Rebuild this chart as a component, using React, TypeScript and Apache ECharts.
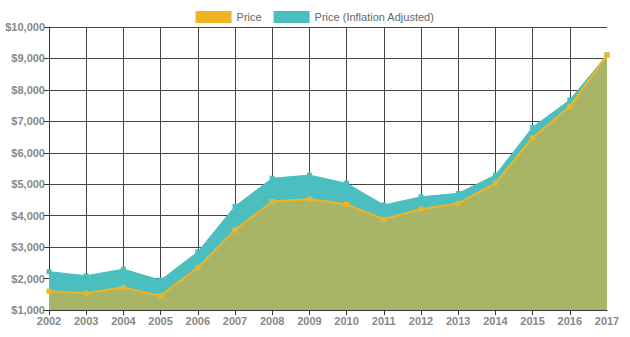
import React, { useEffect, useRef } from "react";
import * as echarts from "echarts";

const years = ["2002","2003","2004","2005","2006","2007","2008","2009","2010","2011","2012","2013","2014","2015","2016","2017"];
const price = [1600, 1530, 1720, 1450, 2350, 3550, 4450, 4530, 4360, 3885, 4210, 4390, 5030, 6480, 7470, 9110];
const priceAdjusted = [2220, 2090, 2300, 1950, 2850, 4300, 5190, 5290, 5030, 4340, 4600, 4710, 5290, 6810, 7680, 9110];

export default function App() {
  const ref = useRef<HTMLDivElement>(null);
  useEffect(() => {
    const chart = echarts.init(ref.current!, null, { renderer: "svg" });
    const font = "'Liberation Sans', Arial, sans-serif";
    const last = years.length - 1;
    chart.setOption({
      animation: false,
      legend: {
        top: 6,
        left: "center",
        itemWidth: 36,
        itemHeight: 12,
        itemGap: 12,
        icon: "rect",
        textStyle: { color: "#666", fontSize: 11, fontFamily: font },
        data: ["Price", "Price (Inflation Adjusted)"],
      },
      grid: { left: 49, right: 23, top: 27, bottom: 27 },
      xAxis: {
        type: "category",
        data: years,
        boundaryGap: false,
        axisLine: { lineStyle: { color: "#333", width: 1 } },
        axisTick: { show: true, length: 5, lineStyle: { color: "#333" }, interval: (i: number) => i !== last },
        axisLabel: { color: "#888", fontSize: 11, fontWeight: "bold", fontFamily: font, margin: 5 },
        splitLine: { show: true, lineStyle: { color: "#444", width: 1 }, interval: (i: number) => i !== last },
      },
      yAxis: {
        type: "value",
        min: 1000,
        max: 10000,
        interval: 1000,
        axisLine: { show: true, lineStyle: { color: "#333", width: 1 } },
        axisTick: { show: true, length: 5, lineStyle: { color: "#333" } },
        axisLabel: {
          color: "#888",
          fontSize: 11,
          fontWeight: "bold",
          fontFamily: font,
          margin: 4,
          formatter: (v: number) => "$" + v.toLocaleString("en-US"),
        },
        splitLine: { show: true, lineStyle: { color: "#444", width: 1 } },
      },
      series: [
        {
          name: "Price",
          type: "line",
          data: price,
          z: 4,
          color: "#f0b323",
          symbol: "rect",
          symbolSize: 5,
          showSymbol: true,
          lineStyle: { color: "#f0b323", width: 2 },
          itemStyle: { color: "#f0b323" },
          areaStyle: { color: "#a9b566", opacity: 1 },
        },
        {
          name: "Price (Inflation Adjusted)",
          type: "line",
          data: priceAdjusted,
          z: 2,
          color: "#4bbfbf",
          symbol: "rect",
          symbolSize: 5,
          showSymbol: true,
          lineStyle: { color: "#4bbfbf", width: 1 },
          itemStyle: { color: "#4bbfbf" },
          areaStyle: { color: "#4bbfbf", opacity: 1 },
        },
      ],
    });
    return () => chart.dispose();
  }, []);
  return <div ref={ref} style={{ width: 630, height: 337, position: "absolute", left: 0, top: 0 }} />;
}
